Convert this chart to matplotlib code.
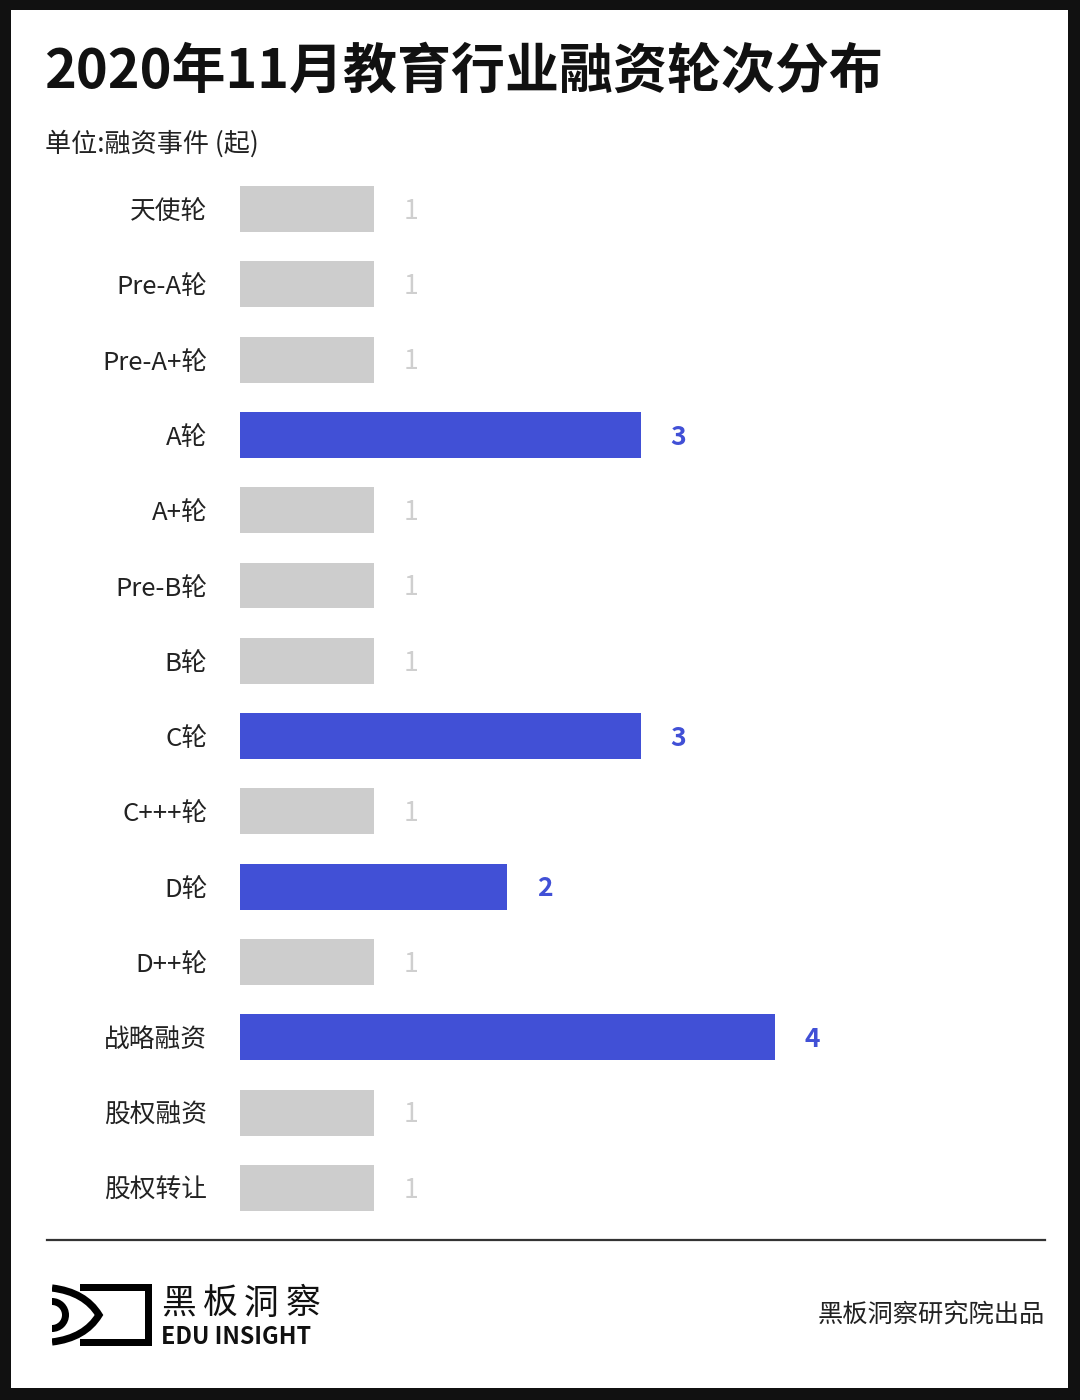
import matplotlib
matplotlib.use("Agg")
import matplotlib.pyplot as plt
from matplotlib.patches import Rectangle, Wedge, PathPatch
from matplotlib.path import Path

plt.rcParams['font.family'] = ['Noto Sans CJK SC', 'DejaVu Sans']

# ---- data ----
title = "2020年11月教育行业融资轮次分布"
subtitle = "单位:融资事件 (起)"
categories = ["天使轮", "Pre-A轮", "Pre-A+轮", "A轮", "A+轮", "Pre-B轮", "B轮",
              "C轮", "C+++轮", "D轮", "D++轮", "战略融资", "股权融资", "股权转让"]
values = [1, 1, 1, 3, 1, 1, 1, 3, 1, 2, 1, 4, 1, 1]
footer_source = "黑板洞察研究院出品"
brand_cn = "黑板洞察"
brand_en = "EDU INSIGHT"

BLUE = "#4150d6"
GRAY_BAR = "#cdcdcd"
GRAY_TXT = "#cfcfcf"

W, H = 1080, 1400
fig = plt.figure(figsize=(W / 100, H / 100), dpi=100, facecolor="#111111")

# overlay axes in pixel coordinates
ov = fig.add_axes([0, 0, 1, 1])
ov.set_xlim(0, W)
ov.set_ylim(H, 0)
ov.axis("off")
ov.add_patch(Rectangle((11, 10), 1057, 1378, facecolor="white", edgecolor="none", zorder=0))

# ---- bar axes ----
unit_px = 133.7
row_px = 75.3
n = len(categories)
x0 = 240
top_px = 209 - row_px / 2
ax_w = 6 * unit_px
ax_h = n * row_px
ax = fig.add_axes([x0 / W, (H - (top_px + ax_h)) / H, ax_w / W, ax_h / H])
ax.set_xlim(0, 6)
ax.set_ylim(n - 0.5, -0.5)
ax.patch.set_alpha(0)
colors = [BLUE if v > 1 else GRAY_BAR for v in values]
ypos = list(range(n))
ax.barh(ypos, values, height=0.61, color=colors, zorder=2)
for y, v, c in zip(ypos, values, colors):
    tc = BLUE if v > 1 else GRAY_TXT
    ax.text(v + 37 / unit_px, y + 0.03, str(v), ha="center", va="center",
            fontsize=19, color=tc,
            fontweight="semibold" if v > 1 else "light")
ax.set_yticks(ypos)
ax.set_yticklabels(categories, fontsize=18.5, color="#222222")
ax.tick_params(axis="y", length=0, pad=23.5)
ax.set_xticks([])
for s in ax.spines.values():
    s.set_visible(False)

# ---- title & subtitle ----
ov.text(44, 72, title, fontsize=38.9, fontweight="bold", color="#111111", ha="left", va="center")
ov.text(45, 144, subtitle, fontsize=18.8, color="#222222", ha="left", va="center")

# ---- footer ----
ov.plot([47, 1045], [1240, 1240], color="#333333", lw=1.6)
ov.text(1045, 1316, footer_source, fontsize=18.2, color="#222222", ha="right", va="center")

# logo: rectangle part
ov.add_patch(Rectangle((80, 1284), 72, 7, color="black", lw=0))
ov.add_patch(Rectangle((80, 1339), 72, 7, color="black", lw=0))
ov.add_patch(Rectangle((145, 1284), 7, 62, color="black", lw=0))
# eye chevron arcs
verts = [(52, 1288), (85, 1292), (99, 1315), (85, 1338), (52, 1342)]
codes = [Path.MOVETO, Path.CURVE3, Path.CURVE3, Path.CURVE3, Path.CURVE3]
ov.add_patch(PathPatch(Path(verts, codes), facecolor="none", edgecolor="black", lw=5.2))
# inner half ring
ov.add_patch(Wedge((52, 1315), 17, -90, 90, width=7, color="black", lw=0))
ov.add_patch(Rectangle((40, 1280), 12, 70, color="white", lw=0))

for i, ch in enumerate(brand_cn):
    ov.text(161 + i * 41.5, 1304, ch, fontsize=25, fontweight="medium", color="#111111",
            ha="left", va="center")
ov.text(161, 1337, brand_en, fontsize=16.8, fontweight="bold", color="#111111",
        ha="left", va="center")

fig.savefig("out.png", dpi=100, facecolor=fig.get_facecolor())
